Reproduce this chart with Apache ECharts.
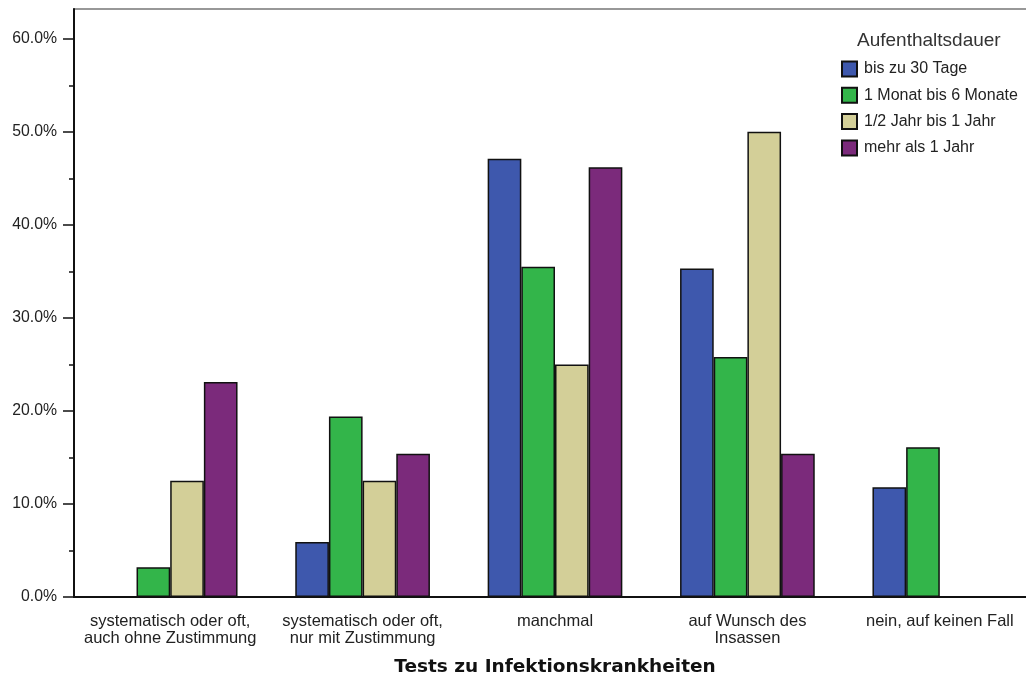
<!DOCTYPE html>
<html>
<head>
<meta charset="utf-8">
<script src="https://cdn.jsdelivr.net/npm/echarts@6/dist/echarts.min.js"></script>
<style>html,body{margin:0;padding:0;background:#fff}#c{width:1026px;height:679px}</style>
</head>
<body>
<div id="c"></div>
<script>
const categories = [
  "systematisch oder oft,\nauch ohne Zustimmung",
  "systematisch oder oft,\nnur mit Zustimmung",
  "manchmal",
  "auf Wunsch des\nInsassen",
  "nein, auf keinen Fall"
];
const seriesNames = ["bis zu 30 Tage", "1 Monat bis 6 Monate", "1/2 Jahr bis 1 Jahr", "mehr als 1 Jahr"];
const bis30Tage = [0, 5.9, 47.1, 35.3, 11.8];
const monat1bis6 = [3.2, 19.4, 35.5, 25.8, 16.1];
const halbJahrBis1 = [12.5, 12.5, 25.0, 50.0, 0];
const mehrAls1Jahr = [23.1, 15.4, 46.2, 15.4, 0];
const yTicks = [0, 10, 20, 30, 40, 50, 60];
const colors = ["#3e58ad", "#33b54a", "#d3cf98", "#7b2a7b"];
const legendTitle = "Aufenthaltsdauer";
const xTitle = "Tests zu Infektionskrankheiten";

const font = "Liberation Sans, Arial, sans-serif";
const dataSets = [bis30Tage, monat1bis6, halbJahrBis1, mehrAls1Jahr];
const yTop = 63.2;

const chart = echarts.init(document.getElementById('c'), null, {renderer: 'canvas'});
chart.setOption({
  animation: false,
  backgroundColor: '#fff',
  title: {
    text: legendTitle,
    left: 857, top: 31, padding: 0,
    textStyle: {fontFamily: font, fontSize: 19, fontWeight: 'normal', color: '#333', lineHeight: 20}
  },
  legend: {
    orient: 'vertical',
    left: 841, top: 60.5, padding: 0,
    itemWidth: 15, itemHeight: 15, itemGap: 9.3,
    icon: 'rect',
    data: seriesNames,
    textStyle: {fontFamily: font, fontSize: 16, color: '#222', lineHeight: 15, padding: [0, 0, 0, 2]}
  },
  grid: [
    {left: 74, top: 9, bottom: 82, width: 962, outerBoundsMode: 'none', show: true, borderColor: '#777', borderWidth: 1.5, backgroundColor: 'transparent'},
    {left: 74, top: 9 + (597 - 9) * ((yTop - yTicks[yTicks.length - 1]) / yTop), bottom: 82, width: 962, outerBoundsMode: 'none'}
  ],
  xAxis: [
    {
      type: 'category', gridIndex: 0, data: categories,
      axisLine: {lineStyle: {color: '#111', width: 2}},
      axisTick: {alignWithLabel: true, length: 11, lineStyle: {color: '#111', width: 1.5}},
      axisLabel: {fontFamily: font, fontSize: 16.5, color: '#222', margin: 16, lineHeight: 17, interval: 0},
      name: xTitle, nameLocation: 'middle', nameGap: 61,
      nameTextStyle: {fontFamily: 'DejaVu Sans, sans-serif', fontSize: 18.5, fontWeight: 'bold', color: '#111'}
    },
    {type: 'category', gridIndex: 1, data: categories, show: false}
  ],
  yAxis: [
    {
      type: 'value', gridIndex: 0, min: 0, max: yTop,
      axisLine: {show: true, lineStyle: {color: '#111', width: 2}},
      axisTick: {show: false}, axisLabel: {show: false}, splitLine: {show: false}
    },
    {
      type: 'value', gridIndex: 1, min: yTicks[0], max: yTicks[yTicks.length - 1], interval: 10,
      axisLine: {show: false},
      axisTick: {show: true, length: 11, lineStyle: {color: '#111', width: 1.5}},
      minorTick: {show: true, splitNumber: 2, length: 5, lineStyle: {color: '#111', width: 1.5}},
      axisLabel: {fontFamily: font, fontSize: 15.8, color: '#222', margin: 17, formatter: v => v.toFixed(1) + '%'},
      splitLine: {show: false}
    }
  ],
  series: dataSets.map((d, i) => ({
    name: seriesNames[i],
    type: 'bar',
    xAxisIndex: 0, yAxisIndex: 0,
    data: d,
    barGap: '0%',
    barCategoryGap: '30%',
    itemStyle: {color: colors[i], borderColor: '#111', borderWidth: 1.5}
  }))
});
</script>
</body>
</html>
